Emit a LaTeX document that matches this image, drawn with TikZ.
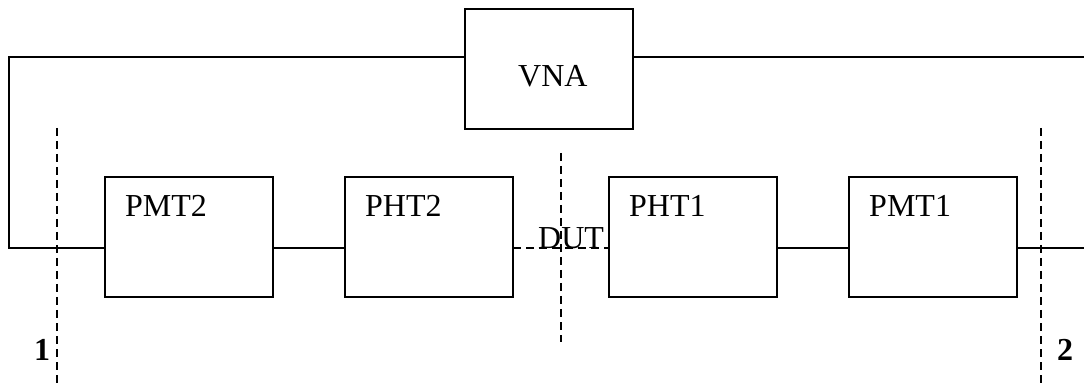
\documentclass[tikz,border=0pt]{standalone}
\usepackage{fontspec}
\setmainfont{Liberation Serif}
\begin{document}
\begin{tikzpicture}[x=1pt,y=-1pt,
  blk/.style={draw, line width=2.4pt, minimum width=168pt, minimum height=120pt, inner sep=0pt, outer sep=0pt, anchor=north west},
  lbl/.style={anchor=base west, inner sep=0pt, font=\fontsize{32}{36}\selectfont},
  num/.style={anchor=base west, inner sep=0pt, font=\fontsize{32}{36}\selectfont\bfseries},
  wire/.style={line width=2.4pt},
  refl/.style={line width=2pt, dash pattern=on 8pt off 5pt}]
\useasboundingbox (0,0) rectangle (1084,387);
\node[blk] (vna) at (465,9) {};
\node[blk] (pmt2) at (105,177) {};
\node[blk] (pht2) at (345,177) {};
\node[blk] (pht1) at (609,177) {};
\node[blk] (pmt1) at (849,177) {};
\node[lbl] (tvna) at (518,87) {VNA};
\node[lbl] (tpmt2) at (125,217) {PMT2};
\node[lbl] (tpht2) at (365,217) {PHT2};
\node[lbl] (tpht1) at (629,217) {PHT1};
\node[lbl] (tpmt1) at (869,217) {PMT1};
\coordinate (tl) at (9,57);
\coordinate (bl) at (9,248);
\coordinate (tr) at (1084,57);
\coordinate (br) at (1084,248);
\coordinate (p1a) at (57,128);
\coordinate (p1b) at (57,387);
\coordinate (p2a) at (1041,128);
\coordinate (p2b) at (1041,387);
\coordinate (da) at (561,153);
\coordinate (db) at (561,342);
\draw[wire, line join=miter] ([yshift=12pt]vna.west) -- (tl) -- (bl) -- ([yshift=-11pt]pmt2.west);
\draw[wire] ([yshift=12pt]vna.east) -- (tr);
\draw[wire] ([yshift=-11pt]pmt2.east) -- ([yshift=-11pt]pht2.west);
\draw[wire] ([yshift=-11pt]pht1.east) -- ([yshift=-11pt]pmt1.west);
\draw[wire] ([yshift=-11pt]pmt1.east) -- (br);
\draw[refl] ([yshift=-11pt]pht2.east) -- ([yshift=-11pt]pht1.west);
\draw[refl] (p1a) -- (p1b);
\draw[refl] (p2a) -- (p2b);
\draw[refl] (da) -- (db);
\node[lbl] (dut) at (538,249) {DUT};
\node[num] (n1) at (34,360) {1};
\node[num] (n2) at (1057,360) {2};
\end{tikzpicture}
\end{document}
